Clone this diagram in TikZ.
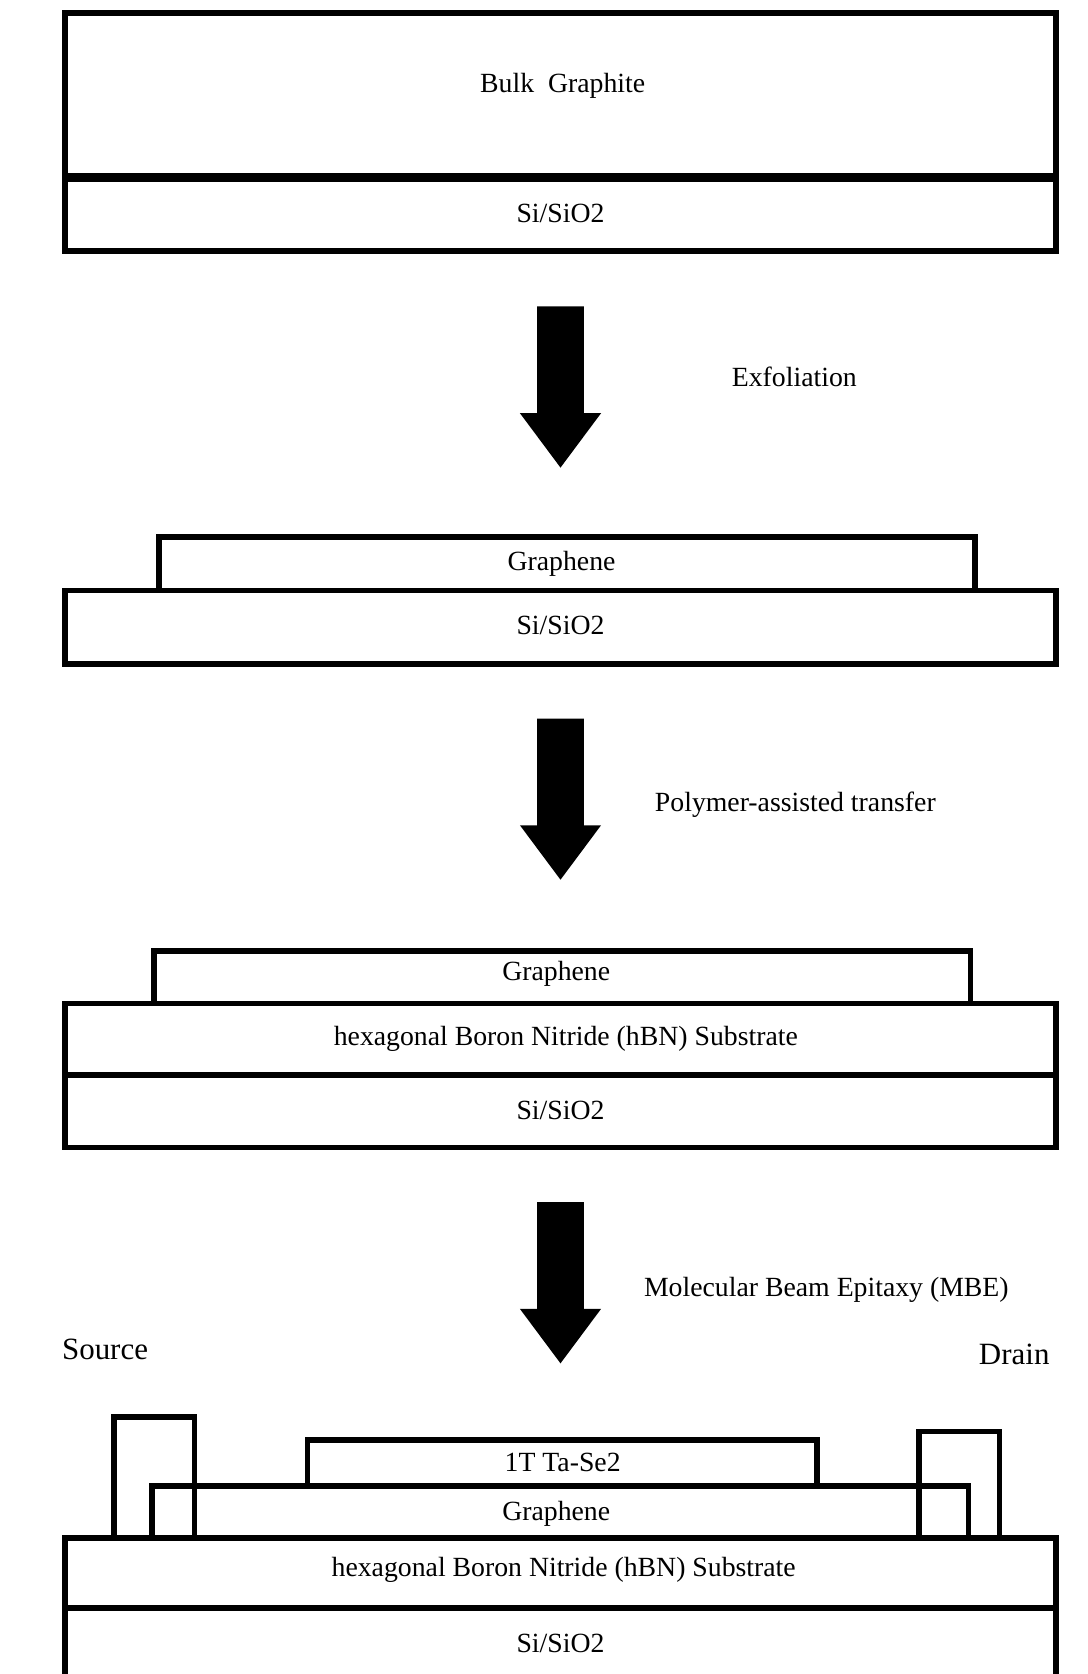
\documentclass[tikz,border=0pt]{standalone}
\usepackage{fontspec}
\setmainfont{Liberation Serif}
\usetikzlibrary{fit}
\begin{document}
\begin{tikzpicture}[x=0.5pt,y=-0.5pt,
  layerbox/.style={draw, line width=2.6pt, inner sep=0pt, outer sep=0pt},
  thicklayer/.style={layerbox, line width=3pt},
  lbl/.style={font=\fontsize{13}{15}\selectfont, anchor=base, inner sep=0pt},
  sdlbl/.style={font=\fontsize{14.5}{17}\selectfont, anchor=base, inner sep=0pt},
  bigarrow/.pic={\fill[black] (-22,0) -- (22,0) -- (22,100) -- (38,100) -- (0,151) -- (-38,100) -- (-22,100) -- cycle;}]
\useasboundingbox (0,0) rectangle (1019,1568);
\clip (0,0) rectangle (1019,1568);

% ---------- Stage 1 ----------
\node[thicklayer, fit={(61,12) (989,165)}] (graphite) {};
\node[thicklayer, fit={(61,167.5) (989,235)}] (si1) {};
\node[lbl] (tgraphite) at (527,86.5) {Bulk\ \ Graphite};
\node[lbl] (tsi1) at (525,208) {Si/SiO2};

% ---------- Arrow 1 ----------
\pic (arrowone) at (525,287) {bigarrow};
\node[lbl] (texfol) at (744,362) {Exfoliation};

% ---------- Stage 2 ----------
\node[layerbox, fit={(149,503) (913,553)}] (graphene2) {};
\node[layerbox, fit={(61,553) (989,622)}] (si2) {};
\node[lbl] (tgraphene2) at (526,534) {Graphene};
\node[lbl] (tsi2) at (525,594.7) {Si/SiO2};

% ---------- Arrow 2 ----------
\pic (arrowtwo) at (525,673) {bigarrow};
\node[lbl] (tpoly) at (745,760) {Polymer-assisted transfer};

% ---------- Stage 3 ----------
\node[layerbox, fit={(144,891) (909,940)}] (graphene3) {};
\node[layerbox, fit={(61,940) (989,1007)}] (hbn3) {};
\node[layerbox, fit={(61,1007) (989,1075)}] (si3) {};
\node[lbl] (tgraphene3) at (521,918) {Graphene};
\node[lbl] (thbn3) at (530,979.7) {hexagonal Boron Nitride (hBN) Substrate};
\node[lbl] (tsi3) at (525,1048.3) {Si/SiO2};

% ---------- Arrow 3 ----------
\pic (arrowthree) at (525,1126) {bigarrow};
\node[lbl] (tmbe) at (774,1214.5) {Molecular Beam Epitaxy (MBE)};
\node[sdlbl] (tsource) at (98.4,1273) {Source};
\node[sdlbl] (tdrain) at (950,1278.5) {Drain};

% ---------- Stage 4 ----------
\node[layerbox, fit={(107,1327.5) (182,1441)}] (source) {};
\node[layerbox, fit={(861,1341) (936,1441)}] (drain) {};
\node[layerbox, fit={(288,1349) (765,1392)}] (tase2) {};
\node[layerbox, fit={(142.5,1392) (907,1440.5)}] (graphene4) {};
\node[layerbox, fit={(61,1440.5) (989,1506)}] (hbn4) {};
\node[layerbox, fit={(61,1506) (989,1578)}] (si4) {};
\node[lbl] (ttase2) at (527,1378) {1T Ta-Se2};
\node[lbl] (tgraphene4) at (521,1424.5) {Graphene};
\node[lbl] (thbn4) at (528,1477) {hexagonal Boron Nitride (hBN) Substrate};
\node[lbl] (tsi4) at (525,1547.5) {Si/SiO2};
\end{tikzpicture}
\end{document}
